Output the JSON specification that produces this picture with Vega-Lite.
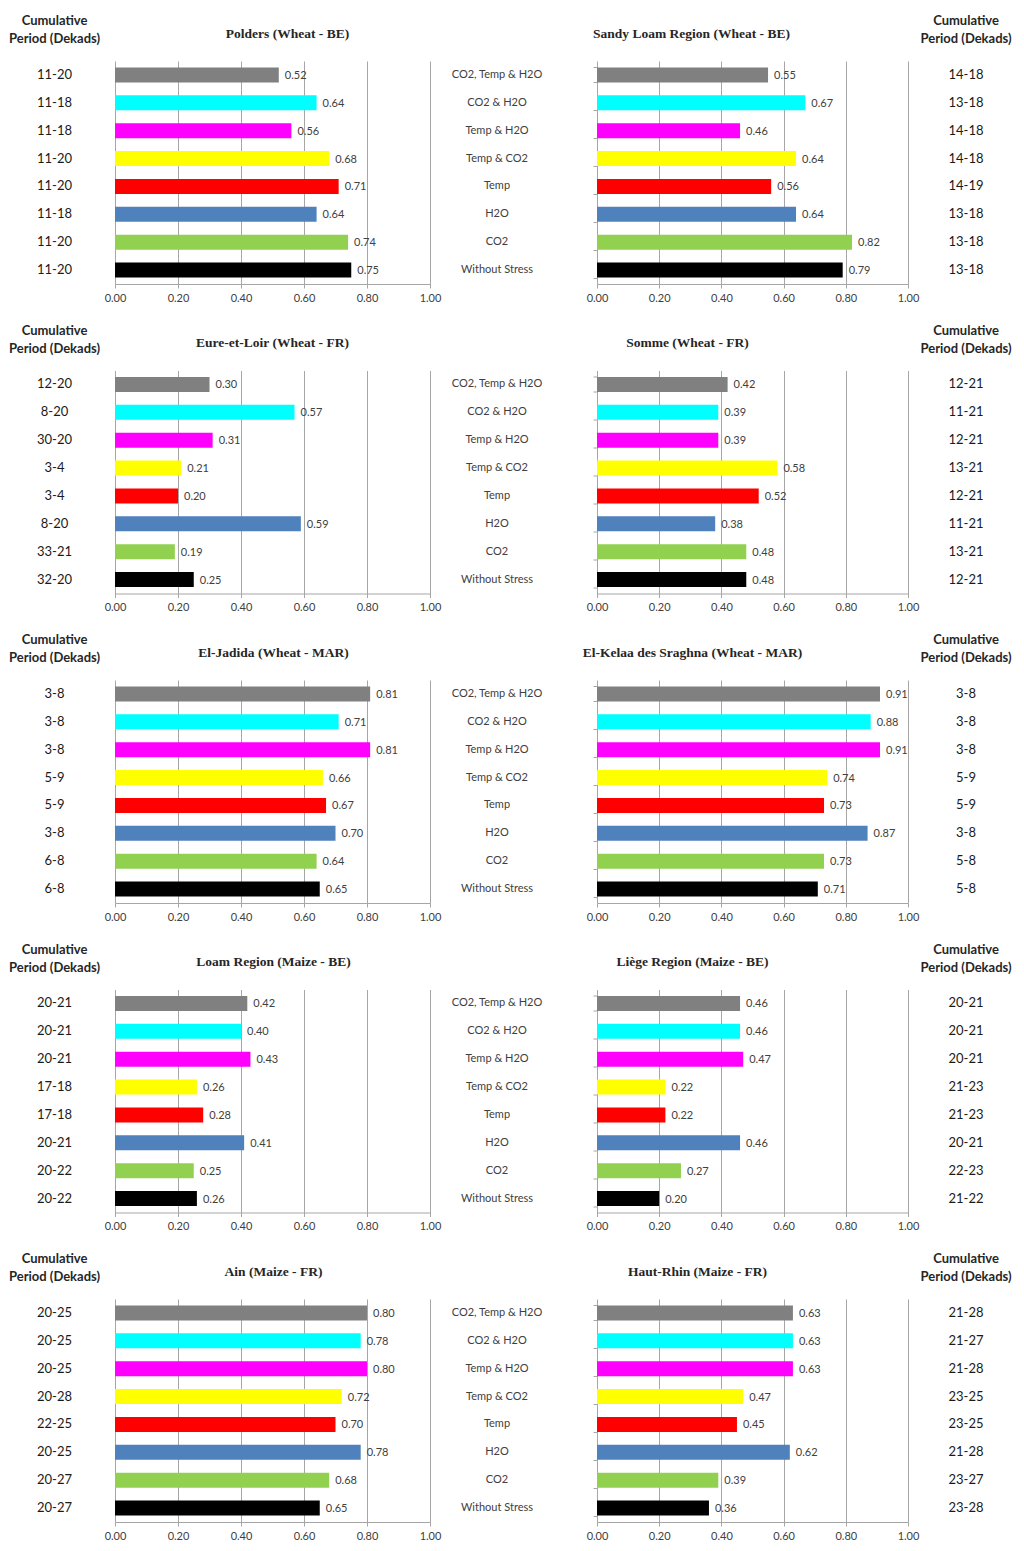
{
"$schema":"https://vega.github.io/schema/vega-lite/v6.json",
"padding":{"left":0,"top":15,"right":0,"bottom":5},
"background":"white",
"datasets":{
"polders":[{"scenario":"CO2, Temp & H2O","value":0.52,"period":"11-20"},{"scenario":"CO2 & H2O","value":0.64,"period":"11-18"},{"scenario":"Temp & H2O","value":0.56,"period":"11-18"},{"scenario":"Temp & CO2","value":0.68,"period":"11-20"},{"scenario":"Temp","value":0.71,"period":"11-20"},{"scenario":"H2O","value":0.64,"period":"11-18"},{"scenario":"CO2","value":0.74,"period":"11-20"},{"scenario":"Without Stress","value":0.75,"period":"11-20"}],
"sandy":[{"scenario":"CO2, Temp & H2O","value":0.55,"period":"14-18"},{"scenario":"CO2 & H2O","value":0.67,"period":"13-18"},{"scenario":"Temp & H2O","value":0.46,"period":"14-18"},{"scenario":"Temp & CO2","value":0.64,"period":"14-18"},{"scenario":"Temp","value":0.56,"period":"14-19"},{"scenario":"H2O","value":0.64,"period":"13-18"},{"scenario":"CO2","value":0.82,"period":"13-18"},{"scenario":"Without Stress","value":0.79,"period":"13-18"}],
"eure":[{"scenario":"CO2, Temp & H2O","value":0.30,"period":"12-20"},{"scenario":"CO2 & H2O","value":0.57,"period":"8-20"},{"scenario":"Temp & H2O","value":0.31,"period":"30-20"},{"scenario":"Temp & CO2","value":0.21,"period":"3-4"},{"scenario":"Temp","value":0.20,"period":"3-4"},{"scenario":"H2O","value":0.59,"period":"8-20"},{"scenario":"CO2","value":0.19,"period":"33-21"},{"scenario":"Without Stress","value":0.25,"period":"32-20"}],
"somme":[{"scenario":"CO2, Temp & H2O","value":0.42,"period":"12-21"},{"scenario":"CO2 & H2O","value":0.39,"period":"11-21"},{"scenario":"Temp & H2O","value":0.39,"period":"12-21"},{"scenario":"Temp & CO2","value":0.58,"period":"13-21"},{"scenario":"Temp","value":0.52,"period":"12-21"},{"scenario":"H2O","value":0.38,"period":"11-21"},{"scenario":"CO2","value":0.48,"period":"13-21"},{"scenario":"Without Stress","value":0.48,"period":"12-21"}],
"jadida":[{"scenario":"CO2, Temp & H2O","value":0.81,"period":"3-8"},{"scenario":"CO2 & H2O","value":0.71,"period":"3-8"},{"scenario":"Temp & H2O","value":0.81,"period":"3-8"},{"scenario":"Temp & CO2","value":0.66,"period":"5-9"},{"scenario":"Temp","value":0.67,"period":"5-9"},{"scenario":"H2O","value":0.70,"period":"3-8"},{"scenario":"CO2","value":0.64,"period":"6-8"},{"scenario":"Without Stress","value":0.65,"period":"6-8"}],
"kelaa":[{"scenario":"CO2, Temp & H2O","value":0.91,"period":"3-8"},{"scenario":"CO2 & H2O","value":0.88,"period":"3-8"},{"scenario":"Temp & H2O","value":0.91,"period":"3-8"},{"scenario":"Temp & CO2","value":0.74,"period":"5-9"},{"scenario":"Temp","value":0.73,"period":"5-9"},{"scenario":"H2O","value":0.87,"period":"3-8"},{"scenario":"CO2","value":0.73,"period":"5-8"},{"scenario":"Without Stress","value":0.71,"period":"5-8"}],
"loam":[{"scenario":"CO2, Temp & H2O","value":0.42,"period":"20-21"},{"scenario":"CO2 & H2O","value":0.40,"period":"20-21"},{"scenario":"Temp & H2O","value":0.43,"period":"20-21"},{"scenario":"Temp & CO2","value":0.26,"period":"17-18"},{"scenario":"Temp","value":0.28,"period":"17-18"},{"scenario":"H2O","value":0.41,"period":"20-21"},{"scenario":"CO2","value":0.25,"period":"20-22"},{"scenario":"Without Stress","value":0.26,"period":"20-22"}],
"liege":[{"scenario":"CO2, Temp & H2O","value":0.46,"period":"20-21"},{"scenario":"CO2 & H2O","value":0.46,"period":"20-21"},{"scenario":"Temp & H2O","value":0.47,"period":"20-21"},{"scenario":"Temp & CO2","value":0.22,"period":"21-23"},{"scenario":"Temp","value":0.22,"period":"21-23"},{"scenario":"H2O","value":0.46,"period":"20-21"},{"scenario":"CO2","value":0.27,"period":"22-23"},{"scenario":"Without Stress","value":0.20,"period":"21-22"}],
"ain":[{"scenario":"CO2, Temp & H2O","value":0.80,"period":"20-25"},{"scenario":"CO2 & H2O","value":0.78,"period":"20-25"},{"scenario":"Temp & H2O","value":0.80,"period":"20-25"},{"scenario":"Temp & CO2","value":0.72,"period":"20-28"},{"scenario":"Temp","value":0.70,"period":"22-25"},{"scenario":"H2O","value":0.78,"period":"20-25"},{"scenario":"CO2","value":0.68,"period":"20-27"},{"scenario":"Without Stress","value":0.65,"period":"20-27"}],
"haut":[{"scenario":"CO2, Temp & H2O","value":0.63,"period":"21-28"},{"scenario":"CO2 & H2O","value":0.63,"period":"21-27"},{"scenario":"Temp & H2O","value":0.63,"period":"21-28"},{"scenario":"Temp & CO2","value":0.47,"period":"23-25"},{"scenario":"Temp","value":0.45,"period":"23-25"},{"scenario":"H2O","value":0.62,"period":"21-28"},{"scenario":"CO2","value":0.39,"period":"23-27"},{"scenario":"Without Stress","value":0.36,"period":"23-28"}]
},
"columns":5,
"align":"each",
"bounds":"flush",
"spacing":{"row":86.5,"column":0},
"concat":[
{"width":115,"height":223,"data":{"name":"polders"},"title":{"text":["Cumulative","Period (Dekads)"],"font":"Lato","fontSize":13,"fontWeight":"bold","lineHeight":18,"offset":15,"dx":-3},"mark":{"type":"text","fontSize":13,"color":"#1a1a1a","dx":-3},"encoding":{"y":{"field":"scenario","type":"nominal","sort":null,"axis":null},"text":{"field":"period"}}},
{"width":315,"height":223,"data":{"name":"polders"},"title":{"text":"Polders (Wheat - BE)","dx":15},"encoding":{"y":{"field":"scenario","type":"nominal","sort":null,"axis":null},"x":{"field":"value","type":"quantitative","scale":{"domain":[0,1]},"axis":{"format":".2f","tickCount":5}}},"layer":[{"mark":{"type":"bar"},"encoding":{"color":{"field":"scenario","type":"nominal","sort":null,"legend":null}}},{"mark":{"type":"text","align":"left","dx":6,"dy":1,"fontSize":11,"color":"#404040"},"encoding":{"text":{"field":"value","format":".2f"}}}]},
{"width":167,"height":223,"data":{"name":"sandy"},"mark":{"type":"text","fontSize":11,"color":"#404040","dx":-16.5},"encoding":{"y":{"field":"scenario","type":"nominal","sort":null,"axis":null},"text":{"field":"scenario"}}},
{"width":311,"height":223,"data":{"name":"sandy"},"title":{"text":"Sandy Loam Region (Wheat - BE)","dx":-61},"encoding":{"y":{"field":"scenario","type":"nominal","sort":null,"axis":{"labels":false,"ticks":true,"tickBand":"extent","tickSize":4,"domain":false,"title":null,"tickColor":"#A6A6A6"}},"x":{"field":"value","type":"quantitative","scale":{"domain":[0,1]},"axis":{"format":".2f","tickCount":5}}},"layer":[{"mark":{"type":"bar"},"encoding":{"color":{"field":"scenario","type":"nominal","sort":null,"legend":null}}},{"mark":{"type":"text","align":"left","dx":6,"dy":1,"fontSize":11,"color":"#404040"},"encoding":{"text":{"field":"value","format":".2f"}}}]},
{"width":116,"height":223,"data":{"name":"sandy"},"title":{"text":["Cumulative","Period (Dekads)"],"font":"Lato","fontSize":13,"fontWeight":"bold","lineHeight":18,"offset":15},"mark":{"type":"text","fontSize":13,"color":"#1a1a1a"},"encoding":{"y":{"field":"scenario","type":"nominal","sort":null,"axis":null},"text":{"field":"period"}}},

{"width":115,"height":223,"data":{"name":"eure"},"title":{"text":["Cumulative","Period (Dekads)"],"font":"Lato","fontSize":13,"fontWeight":"bold","lineHeight":18,"offset":15,"dx":-3},"mark":{"type":"text","fontSize":13,"color":"#1a1a1a","dx":-3},"encoding":{"y":{"field":"scenario","type":"nominal","sort":null,"axis":null},"text":{"field":"period"}}},
{"width":315,"height":223,"data":{"name":"eure"},"title":{"text":"Eure-et-Loir (Wheat - FR)","dx":0},"encoding":{"y":{"field":"scenario","type":"nominal","sort":null,"axis":null},"x":{"field":"value","type":"quantitative","scale":{"domain":[0,1]},"axis":{"format":".2f","tickCount":5}}},"layer":[{"mark":{"type":"bar"},"encoding":{"color":{"field":"scenario","type":"nominal","sort":null,"legend":null}}},{"mark":{"type":"text","align":"left","dx":6,"dy":1,"fontSize":11,"color":"#404040"},"encoding":{"text":{"field":"value","format":".2f"}}}]},
{"width":167,"height":223,"data":{"name":"somme"},"mark":{"type":"text","fontSize":11,"color":"#404040","dx":-16.5},"encoding":{"y":{"field":"scenario","type":"nominal","sort":null,"axis":null},"text":{"field":"scenario"}}},
{"width":311,"height":223,"data":{"name":"somme"},"title":{"text":"Somme (Wheat - FR)","dx":-65},"encoding":{"y":{"field":"scenario","type":"nominal","sort":null,"axis":{"labels":false,"ticks":true,"tickBand":"extent","tickSize":4,"domain":false,"title":null,"tickColor":"#A6A6A6"}},"x":{"field":"value","type":"quantitative","scale":{"domain":[0,1]},"axis":{"format":".2f","tickCount":5}}},"layer":[{"mark":{"type":"bar"},"encoding":{"color":{"field":"scenario","type":"nominal","sort":null,"legend":null}}},{"mark":{"type":"text","align":"left","dx":6,"dy":1,"fontSize":11,"color":"#404040"},"encoding":{"text":{"field":"value","format":".2f"}}}]},
{"width":116,"height":223,"data":{"name":"somme"},"title":{"text":["Cumulative","Period (Dekads)"],"font":"Lato","fontSize":13,"fontWeight":"bold","lineHeight":18,"offset":15},"mark":{"type":"text","fontSize":13,"color":"#1a1a1a"},"encoding":{"y":{"field":"scenario","type":"nominal","sort":null,"axis":null},"text":{"field":"period"}}},

{"width":115,"height":223,"data":{"name":"jadida"},"title":{"text":["Cumulative","Period (Dekads)"],"font":"Lato","fontSize":13,"fontWeight":"bold","lineHeight":18,"offset":15,"dx":-3},"mark":{"type":"text","fontSize":13,"color":"#1a1a1a","dx":-3},"encoding":{"y":{"field":"scenario","type":"nominal","sort":null,"axis":null},"text":{"field":"period"}}},
{"width":315,"height":223,"data":{"name":"jadida"},"title":{"text":"El-Jadida (Wheat - MAR)","dx":1},"encoding":{"y":{"field":"scenario","type":"nominal","sort":null,"axis":null},"x":{"field":"value","type":"quantitative","scale":{"domain":[0,1]},"axis":{"format":".2f","tickCount":5}}},"layer":[{"mark":{"type":"bar"},"encoding":{"color":{"field":"scenario","type":"nominal","sort":null,"legend":null}}},{"mark":{"type":"text","align":"left","dx":6,"dy":1,"fontSize":11,"color":"#404040"},"encoding":{"text":{"field":"value","format":".2f"}}}]},
{"width":167,"height":223,"data":{"name":"kelaa"},"mark":{"type":"text","fontSize":11,"color":"#404040","dx":-16.5},"encoding":{"y":{"field":"scenario","type":"nominal","sort":null,"axis":null},"text":{"field":"scenario"}}},
{"width":311,"height":223,"data":{"name":"kelaa"},"title":{"text":"El-Kelaa des Sraghna (Wheat - MAR)","dx":-60},"encoding":{"y":{"field":"scenario","type":"nominal","sort":null,"axis":{"labels":false,"ticks":true,"tickBand":"extent","tickSize":4,"domain":false,"title":null,"tickColor":"#A6A6A6"}},"x":{"field":"value","type":"quantitative","scale":{"domain":[0,1]},"axis":{"format":".2f","tickCount":5}}},"layer":[{"mark":{"type":"bar"},"encoding":{"color":{"field":"scenario","type":"nominal","sort":null,"legend":null}}},{"mark":{"type":"text","align":"left","dx":6,"dy":1,"fontSize":11,"color":"#404040"},"encoding":{"text":{"field":"value","format":".2f"}}}]},
{"width":116,"height":223,"data":{"name":"kelaa"},"title":{"text":["Cumulative","Period (Dekads)"],"font":"Lato","fontSize":13,"fontWeight":"bold","lineHeight":18,"offset":15},"mark":{"type":"text","fontSize":13,"color":"#1a1a1a"},"encoding":{"y":{"field":"scenario","type":"nominal","sort":null,"axis":null},"text":{"field":"period"}}},

{"width":115,"height":223,"data":{"name":"loam"},"title":{"text":["Cumulative","Period (Dekads)"],"font":"Lato","fontSize":13,"fontWeight":"bold","lineHeight":18,"offset":15,"dx":-3},"mark":{"type":"text","fontSize":13,"color":"#1a1a1a","dx":-3},"encoding":{"y":{"field":"scenario","type":"nominal","sort":null,"axis":null},"text":{"field":"period"}}},
{"width":315,"height":223,"data":{"name":"loam"},"title":{"text":"Loam Region (Maize - BE)","dx":1},"encoding":{"y":{"field":"scenario","type":"nominal","sort":null,"axis":null},"x":{"field":"value","type":"quantitative","scale":{"domain":[0,1]},"axis":{"format":".2f","tickCount":5}}},"layer":[{"mark":{"type":"bar"},"encoding":{"color":{"field":"scenario","type":"nominal","sort":null,"legend":null}}},{"mark":{"type":"text","align":"left","dx":6,"dy":1,"fontSize":11,"color":"#404040"},"encoding":{"text":{"field":"value","format":".2f"}}}]},
{"width":167,"height":223,"data":{"name":"liege"},"mark":{"type":"text","fontSize":11,"color":"#404040","dx":-16.5},"encoding":{"y":{"field":"scenario","type":"nominal","sort":null,"axis":null},"text":{"field":"scenario"}}},
{"width":311,"height":223,"data":{"name":"liege"},"title":{"text":"Liège Region (Maize - BE)","dx":-60},"encoding":{"y":{"field":"scenario","type":"nominal","sort":null,"axis":{"labels":false,"ticks":true,"tickBand":"extent","tickSize":4,"domain":false,"title":null,"tickColor":"#A6A6A6"}},"x":{"field":"value","type":"quantitative","scale":{"domain":[0,1]},"axis":{"format":".2f","tickCount":5}}},"layer":[{"mark":{"type":"bar"},"encoding":{"color":{"field":"scenario","type":"nominal","sort":null,"legend":null}}},{"mark":{"type":"text","align":"left","dx":6,"dy":1,"fontSize":11,"color":"#404040"},"encoding":{"text":{"field":"value","format":".2f"}}}]},
{"width":116,"height":223,"data":{"name":"liege"},"title":{"text":["Cumulative","Period (Dekads)"],"font":"Lato","fontSize":13,"fontWeight":"bold","lineHeight":18,"offset":15},"mark":{"type":"text","fontSize":13,"color":"#1a1a1a"},"encoding":{"y":{"field":"scenario","type":"nominal","sort":null,"axis":null},"text":{"field":"period"}}},

{"width":115,"height":223,"data":{"name":"ain"},"title":{"text":["Cumulative","Period (Dekads)"],"font":"Lato","fontSize":13,"fontWeight":"bold","lineHeight":18,"offset":15,"dx":-3},"mark":{"type":"text","fontSize":13,"color":"#1a1a1a","dx":-3},"encoding":{"y":{"field":"scenario","type":"nominal","sort":null,"axis":null},"text":{"field":"period"}}},
{"width":315,"height":223,"data":{"name":"ain"},"title":{"text":"Ain (Maize - FR)","dx":1},"encoding":{"y":{"field":"scenario","type":"nominal","sort":null,"axis":null},"x":{"field":"value","type":"quantitative","scale":{"domain":[0,1]},"axis":{"format":".2f","tickCount":5}}},"layer":[{"mark":{"type":"bar"},"encoding":{"color":{"field":"scenario","type":"nominal","sort":null,"legend":null}}},{"mark":{"type":"text","align":"left","dx":6,"dy":1,"fontSize":11,"color":"#404040"},"encoding":{"text":{"field":"value","format":".2f"}}}]},
{"width":167,"height":223,"data":{"name":"haut"},"mark":{"type":"text","fontSize":11,"color":"#404040","dx":-16.5},"encoding":{"y":{"field":"scenario","type":"nominal","sort":null,"axis":null},"text":{"field":"scenario"}}},
{"width":311,"height":223,"data":{"name":"haut"},"title":{"text":"Haut-Rhin (Maize - FR)","dx":-55},"encoding":{"y":{"field":"scenario","type":"nominal","sort":null,"axis":{"labels":false,"ticks":true,"tickBand":"extent","tickSize":4,"domain":false,"title":null,"tickColor":"#A6A6A6"}},"x":{"field":"value","type":"quantitative","scale":{"domain":[0,1]},"axis":{"format":".2f","tickCount":5}}},"layer":[{"mark":{"type":"bar"},"encoding":{"color":{"field":"scenario","type":"nominal","sort":null,"legend":null}}},{"mark":{"type":"text","align":"left","dx":6,"dy":1,"fontSize":11,"color":"#404040"},"encoding":{"text":{"field":"value","format":".2f"}}}]},
{"width":116,"height":223,"data":{"name":"haut"},"title":{"text":["Cumulative","Period (Dekads)"],"font":"Lato","fontSize":13,"fontWeight":"bold","lineHeight":18,"offset":15},"mark":{"type":"text","fontSize":13,"color":"#1a1a1a"},"encoding":{"y":{"field":"scenario","type":"nominal","sort":null,"axis":null},"text":{"field":"period"}}}
],
"config":{
"view":{"stroke":null},
"font":"Lato",
"range":{"category":["#808080","#00FFFF","#FF00FF","#FFFF00","#FF0000","#4F81BD","#92D050","#000000"]},
"scale":{"bandPaddingInner":0.46,"bandPaddingOuter":0.23,"pointPadding":0.5},
"text":{"font":"Lato","baseline":"middle"},
"axisX":{"grid":true,"gridColor":"#A6A6A6","gridOpacity":1,"domainColor":"#A6A6A6","tickColor":"#A6A6A6","tickSize":4,"labelFontSize":11,"labelColor":"#404040","labelFont":"Lato","labelPadding":4,"labelFlush":false,"title":null},
"title":{"font":"Liberation Serif","fontSize":13.5,"fontWeight":"bold","color":"#262626","baseline":"bottom","offset":21,"anchor":"middle","frame":"group"}
}
}
